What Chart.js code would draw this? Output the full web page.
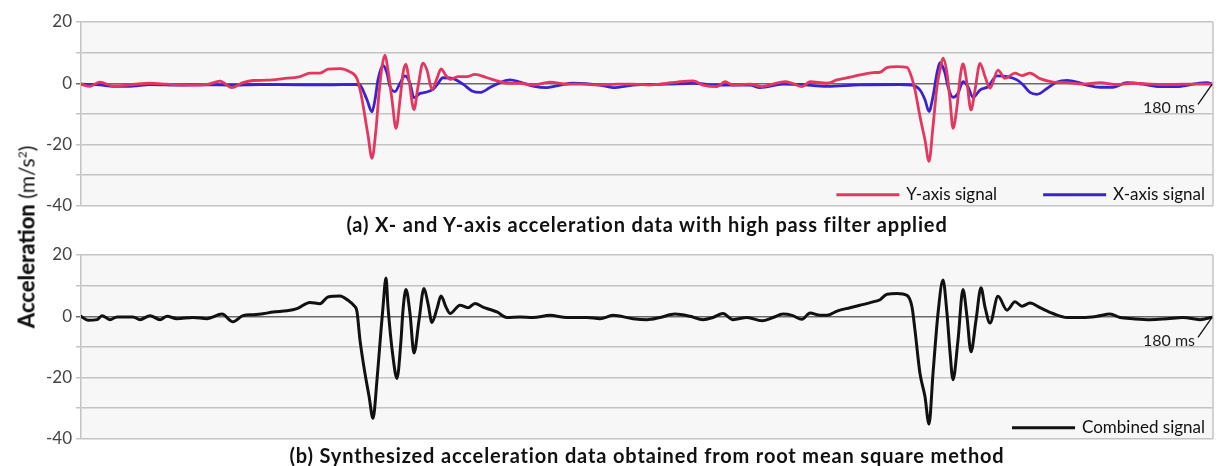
<!DOCTYPE html>
<html>
<head>
<meta charset="utf-8">
<script src="https://cdn.jsdelivr.net/npm/chart.js@4.4.0/dist/chart.umd.min.js"></script>
<style>
  body { margin: 0; background: #fff; width: 1221px; height: 466px; overflow: hidden; font-family: Lato, sans-serif; }
  .wrap { position: relative; width: 1221px; height: 466px; }
  canvas { position: absolute; left: 0; }
  #chartA { top: 0; }
  #chartB { top: 240px; }
  .caption { position: absolute; left: 81px; width: 1132px; text-align: center; font-weight: bold; font-size: 20px; letter-spacing: 0.85px; color: #111; line-height: 22px; }
  #capA { top: 213px; }
  #capB { top: 444px; }
  #ytitle { position: absolute; left: 26px; top: 237px; transform: translate(-50%, -50%) rotate(-90deg); white-space: nowrap; font-size: 21px; color: #111; }
  #ytitle b { font-weight: 900; font-size: 22px; }
</style>
</head>
<body>
<div class="wrap">
  <canvas id="chartA" width="1221" height="220"></canvas>
  <canvas id="chartB" width="1221" height="213"></canvas>
  <div class="caption" id="capA">(a) X- and Y-axis acceleration data with high pass filter applied</div>
  <div class="caption" id="capB">(b) Synthesized acceleration data obtained from root mean square method</div>
  <div id="ytitle"><b>Acceleration</b> (m/s<sup style="font-size:12px">2</sup>)</div>
</div>
<script>
// time (sample units) , acceleration (m/s2)
const yAxisSignal = [[0,-0.3],[9,-1],[19,0.4],[32,-0.9],[52,-0.4],[69,0],[86,-0.3],[106,-0.6],[126,-0.4],[139,0.7],[151,-1.4],[162,0.2],[172,0.9],[186,1.0],[202,1.5],[219,2.2],[229,3.3],[239,3.3],[247,4.6],[259,4.8],[269,3.7],[276,1.5],[280,-3.5],[283,-9],[287,-17],[291,-24.5],[295,-15],[298,-3.3],[301,5.4],[304,9.2],[307,4.3],[311,-5.4],[315,-14.7],[319,-5.4],[322,3.3],[325,6.2],[328,1.1],[333,-8.6],[337,-1.1],[342,6.6],[346,4.3],[351,-2],[356,1.6],[360,4.7],[365,2.5],[369,1.3],[377,2.2],[386,2.2],[394,2.9],[406,1.8],[416,0.8],[426,0],[439,0],[452,-0.6],[469,0.4],[486,-0.3],[502,-0.3],[519,-0.6],[536,-0.3],[552,-0.3],[569,-0.6],[586,0],[596,0.4],[612,0.8],[622,-0.6],[636,-1.1],[644,0.5],[652,-0.6],[669,-0.3],[681,-1.1],[692,-0.3],[704,0.5],[711,0],[721,-1.1],[729,0.5],[746,0],[756,1.1],[769,2.0],[779,2.7],[792,3.5],[799,3.6],[806,5.1],[816,5.4],[826,5.2],[831,1.6],[834,-2.2],[839,-10.9],[844,-18.5],[848,-25.5],[852,-14.1],[856,-1.1],[859,4.3],[862,8.2],[866,3.3],[869,-5.4],[872,-14.7],[876,-7.6],[879,1.6],[882,6.3],[886,0],[890,-8.7],[894,-2.2],[899,6.5],[904,2.2],[909,-1.6],[917,4.3],[924,1.6],[934,3.3],[941,2.5],[949,3.3],[959,1.5],[972,0.4],[986,0.2],[1002,-0.3],[1019,0.2],[1036,-0.4],[1052,0],[1069,-0.3],[1086,-0.4],[1102,-0.3],[1119,-0.3],[1132,-0.3]];

const xAxisSignal = [[0,-0.3],[19,-0.5],[32,-1.0],[52,-0.9],[69,-0.4],[99,-0.6],[126,-0.5],[149,-0.6],[179,-0.4],[219,-0.5],[249,-0.5],[274,-0.4],[279,-0.6],[281,-1.6],[286,-5.4],[291,-9.3],[294,-5.4],[297,1.1],[302,5.8],[306,3.3],[309,-1.1],[314,-2.7],[319,0],[324,2.4],[329,0],[333,-4.7],[339,-3.3],[344,-3],[352,-2],[356,-0.5],[362,1.8],[372,1.5],[382,-0.3],[391,-2.5],[399,-3],[409,-1.4],[419,0.2],[429,1.1],[439,0.4],[452,-0.9],[466,-1.4],[479,-0.6],[492,0],[519,-0.6],[532,-1.4],[552,-0.6],[586,-0.3],[612,0],[636,-0.6],[669,-0.6],[679,-1.4],[702,-0.3],[719,-0.4],[746,-1],[779,-0.5],[819,-0.4],[831,-0.6],[839,-2.2],[844,-5.4],[848,-9.2],[852,-4.3],[856,3.3],[859,6.7],[864,3.3],[867,-1.1],[872,-4.6],[877,-3.3],[882,0.5],[887,-1.1],[892,-4.6],[899,-2.2],[907,-1.1],[916,2.4],[926,2.2],[936,1.1],[942,-0.5],[949,-3],[956,-3.6],[966,-1.7],[976,0.4],[986,0.9],[996,0.4],[1006,-0.6],[1019,-1.3],[1032,-1.3],[1046,0.2],[1062,-0.3],[1079,-1.1],[1096,-1.1],[1112,-0.3],[1126,0.2],[1132,-0.3]];

const combinedSignal = [[0,0],[7,-1.3],[16,-1.1],[21,0.2],[29,-1.1],[36,-0.2],[52,-0.2],[59,-1.1],[69,0.2],[79,-1.1],[86,0],[96,-0.8],[112,-0.4],[126,-0.8],[141,0.7],[152,-1.8],[162,0.2],[172,0.5],[182,0.8],[192,1.4],[206,1.8],[216,2.5],[229,4.5],[239,4.1],[247,6.3],[259,6.6],[267,5.2],[273,3.5],[276,1.5],[279,-7.8],[284,-18.7],[288,-26],[292,-33.3],[296,-20.8],[300,-4.6],[302,3],[305,12.5],[307,3],[312,-13.3],[316,-20.3],[320,-7.8],[322,2],[325,8.7],[329,0.9],[333,-12],[338,-1.3],[343,9.1],[347,4.1],[351,-2],[356,2.5],[360,6.6],[365,3],[369,0.9],[379,3.6],[387,2.8],[394,4.2],[402,3],[409,2.2],[416,1.4],[426,-0.4],[439,-0.2],[452,-0.4],[469,0.3],[486,-0.4],[506,-0.4],[519,-0.8],[532,0.3],[552,-0.8],[566,-1.1],[579,-0.4],[594,0.7],[609,0],[622,-1.1],[632,-0.4],[642,0.9],[652,-1.1],[666,-0.4],[681,-1.5],[692,-0.4],[702,0.7],[711,0.3],[721,-1.0],[729,1.1],[739,0.3],[746,0.3],[756,1.7],[769,2.8],[779,3.6],[792,4.7],[799,5.4],[806,7.2],[816,7.4],[826,6.8],[831,3],[834,-4.6],[839,-18.7],[844,-26.3],[848,-35.2],[852,-18.7],[857,0.9],[862,11.8],[866,0.9],[869,-11.6],[872,-20.7],[877,-7.8],[882,8.7],[886,-0.2],[890,-11.6],[895,-1.3],[900,9.3],[904,3],[909,-2.2],[917,6.5],[926,2],[934,4.7],[941,3.3],[949,4.3],[959,2.8],[972,0.9],[986,-0.4],[1002,-0.4],[1016,0],[1029,0.7],[1039,-0.4],[1052,-0.8],[1069,-1.1],[1086,-0.8],[1102,-0.4],[1119,-1.1],[1132,-0.2]];

const yTicks = [20, 0, -20, -40];
const markerText = '180 ms';
const FONT = 'Lato, sans-serif';

const toPoints = (arr) => arr.map(p => ({x: p[0], y: p[1]}));

// plot area fill + frame
const areaPlugin = {
  id: 'area',
  beforeDraw(chart) {
    const {ctx, chartArea: a} = chart;
    ctx.save();
    ctx.fillStyle = '#f7f7f7';
    ctx.fillRect(a.left, a.top, a.right - a.left, a.bottom - a.top);
    ctx.restore();
  },
  afterDraw(chart) {
    const {ctx, chartArea: a} = chart;
    ctx.save();
    ctx.strokeStyle = '#c4c4c4';
    ctx.lineWidth = 1.5;
    ctx.beginPath();
    ctx.moveTo(a.right, a.top);
    ctx.lineTo(a.right, a.bottom);
    ctx.stroke();
    ctx.restore();
  }
};

// legend drawn inside the plot, bottom right
const innerLegend = {
  id: 'innerLegend',
  afterDraw(chart) {
    const {ctx, chartArea: a} = chart;
    ctx.save();
    ctx.font = '17px ' + FONT;
    ctx.textBaseline = 'middle';
    let x = a.right - 8;
    const y = a.bottom - 11;
    const sets = chart.data.datasets.slice().reverse();
    sets.forEach(ds => {
      const w = ctx.measureText(ds.label).width;
      ctx.fillStyle = '#111';
      ctx.fillText(ds.label, x - w, y);
      const lineEnd = x - w - 7;
      ctx.strokeStyle = ds.borderColor;
      ctx.lineWidth = 3;
      ctx.beginPath();
      ctx.moveTo(lineEnd - 63, y);
      ctx.lineTo(lineEnd, y);
      ctx.stroke();
      x = lineEnd - 63 - 46;
    });
    ctx.restore();
  }
};

// "180 ms" callout at end of trace
const endMarker = {
  id: 'endMarker',
  afterDraw(chart) {
    const {ctx} = chart;
    const data = chart.data.datasets[0].data;
    const last = data[data.length - 1];
    const px = chart.scales.x.getPixelForValue(last.x);
    const py = chart.scales.y.getPixelForValue(0);
    ctx.save();
    ctx.strokeStyle = '#111';
    ctx.lineWidth = 1.3;
    ctx.beginPath();
    ctx.moveTo(px - 1, py + 1);
    ctx.lineTo(px - 15, py + 21);
    ctx.stroke();
    ctx.font = '16px ' + FONT;
    ctx.fillStyle = '#222';
    ctx.textAlign = 'right';
    ctx.textBaseline = 'middle';
    ctx.fillText(markerText, px - 18, py + 25);
    ctx.restore();
  }
};

const makeOptions = (padTop) => ({
  responsive: false,
  animation: false,
  devicePixelRatio: 1,
  layout: { padding: { top: padTop, bottom: 0, right: 8, left: 0 } },
  plugins: { legend: { display: false }, tooltip: { enabled: false } },
  elements: { point: { radius: 0 }, line: { cubicInterpolationMode: 'monotone', borderJoinStyle: 'round', borderCapStyle: 'round' } },
  scales: {
    x: { type: 'linear', min: 0, max: 1132, display: false },
    y: {
      min: -40, max: 20,
      afterFit: (s) => { s.width = 81; },
      border: { color: '#c4c4c4', width: 1.5 },
      grid: {
        color: (c) => c.tick && c.tick.value === 0 ? '#6a6a6a' : '#c4c4c4',
        lineWidth: 1.5,
        tickLength: 5
      },
      ticks: {
        stepSize: 10,
        padding: 4,
        color: '#444',
        font: { family: FONT, size: 17 },
        callback: (v) => yTicks.includes(v) ? String(v) : ''
      }
    }
  }
});

new Chart(document.getElementById('chartA'), {
  type: 'line',
  data: {
    datasets: [
      { label: 'Y-axis signal', data: toPoints(yAxisSignal), borderColor: '#e3375f', borderWidth: 2.8 },
      { label: 'X-axis signal', data: toPoints(xAxisSignal), borderColor: '#3b22cf', borderWidth: 2.8 }
    ]
  },
  options: makeOptions(22),
  plugins: [areaPlugin, innerLegend, endMarker]
});

new Chart(document.getElementById('chartB'), {
  type: 'line',
  data: {
    datasets: [
      { label: 'Combined signal', data: toPoints(combinedSignal), borderColor: '#111111', borderWidth: 3 }
    ]
  },
  options: makeOptions(15),
  plugins: [areaPlugin, innerLegend, endMarker]
});
</script>
</body>
</html>
